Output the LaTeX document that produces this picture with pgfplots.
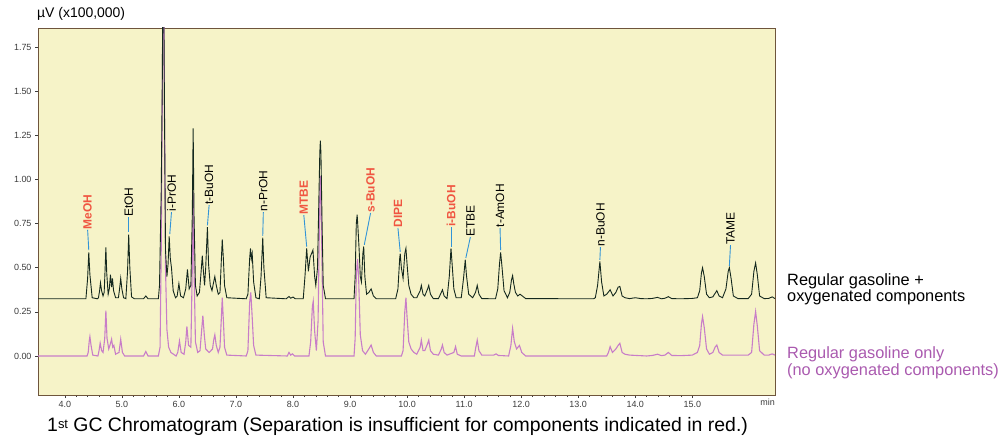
\documentclass[border=0pt]{standalone}
\usepackage{pgfplots}
\pgfplotsset{compat=1.18}
\usepackage{fontspec}
\setmainfont{Liberation Sans}

\definecolor{plotbg}{RGB}{246,243,200}
\definecolor{frame}{RGB}{110,85,60}
\definecolor{trace}{RGB}{20,40,30}
\definecolor{lilac}{RGB}{200,125,200}
\definecolor{lilactext}{RGB}{170,90,175}
\definecolor{redlbl}{RGB}{240,85,65}
\definecolor{leader}{RGB}{50,148,215}
\definecolor{ticktext}{RGB}{60,60,60}

\begin{document}
\begin{tikzpicture}
\begin{axis}[
name=ax,
scale only axis,
width=737bp, height=367bp,
xmin=3.53, xmax=16.45,
ymin=-0.221, ymax=1.858,
axis background/.style={fill=plotbg},
axis line style={draw=frame, line width=0.8bp},
clip mode=individual,
xtick={4,...,15},
ytick={0,0.25,...,1.75},
minor x tick num=4,
tick align=outside,
major tick length=3bp, minor tick length=2bp,
tick style={draw=ticktext, line width=0.5bp},
xtick pos=bottom, ytick pos=left,
/pgf/number format/assume math mode=true,
xticklabel style={/pgf/number format/.cd, fixed, fixed zerofill, precision=1},
yticklabel style={/pgf/number format/.cd, fixed, fixed zerofill, precision=2},
ticklabel style={font=\fontsize{9}{9}\selectfont, text=ticktext},
extra x ticks={16.32},
extra x tick labels={min},
extra x tick style={major tick length=0bp, tick style={draw=none}},
]
% regular gasoline only
\addplot[lilac, line width=1.1bp] coordinates {
(3.53,0)(4.39,0)
(4.41,0.02)(4.43,0.09)(4.44,0.11)(4.46,0.06)(4.49,0.005)(4.58,0)
(4.60,0.03)(4.62,0.073)(4.645,0.03)(4.67,0.02)
(4.70,0.10)(4.72,0.257)(4.74,0.10)(4.77,0.04)
(4.80,0.07)(4.82,0.095)(4.84,0.05)(4.86,0.06)(4.89,0.01)
(4.95,0.02)(4.98,0.095)(5.01,0.02)(5.05,0)(5.38,0)
(5.42,0.025)(5.46,0)(5.64,0)
(5.67,0.05)(5.69,0.6)(5.71,1.5)(5.725,2.6)(5.745,1.5)(5.765,0.5)(5.79,0.15)(5.82,0.05)(5.86,0.02)(5.95,0)
(5.98,0.02)(6.01,0.085)(6.04,0.02)(6.09,0.01)
(6.12,0.08)(6.14,0.167)(6.17,0.06)(6.21,0.05)
(6.235,0.5)(6.25,0.93)(6.265,0.5)(6.29,0.08)(6.33,0.02)(6.37,0.03)
(6.40,0.15)(6.42,0.229)(6.445,0.12)(6.47,0.04)(6.53,0.02)(6.59,0.04)
(6.61,0.09)(6.63,0.12)(6.655,0.06)(6.69,0.02)(6.72,0.05)
(6.745,0.22)(6.76,0.33)(6.78,0.2)(6.80,0.05)(6.84,0.005)(7.18,0)
(7.21,0.03)(7.24,0.30)(7.26,0.36)(7.28,0.25)(7.31,0.06)(7.35,0.005)(7.90,0)
(7.93,0.02)(7.96,0.005)(7.99,0.012)(8.03,0)(8.28,0)
(8.31,0.08)(8.34,0.28)(8.355,0.31)(8.38,0.14)(8.41,0.03)(8.44,0.2)(8.47,0.9)(8.48,1.02)(8.49,0.9)(8.51,0.5)(8.53,0.08)(8.57,0)(9.07,0)
(9.09,0.1)(9.11,0.45)(9.13,0.55)(9.15,0.45)(9.18,0.12)(9.22,0.03)(9.27,0.01)(9.33,0.04)(9.37,0.062)(9.41,0.02)(9.46,0)(9.90,0)
(9.93,0.03)(9.96,0.25)(9.98,0.33)(10.00,0.22)(10.03,0.08)(10.07,0.04)(10.12,0.02)(10.17,0.01)
(10.23,0.05)(10.25,0.09)(10.28,0.03)(10.31,0.03)
(10.36,0.07)(10.38,0.09)(10.41,0.03)(10.46,0.01)(10.55,0.005)
(10.60,0.04)(10.62,0.062)(10.65,0.02)(10.70,0.005)
(10.82,0.02)(10.85,0.053)(10.88,0.01)(10.95,0)(11.18,0)
(11.20,0.04)(11.23,0.09)(11.26,0.03)(11.31,0.005)(11.52,0.005)(11.56,0.012)(11.60,0.003)(11.78,0)
(11.82,0.06)(11.85,0.157)(11.88,0.08)(11.92,0.04)(11.97,0.06)(12.01,0.02)(12.08,0)(13.5,0)
(13.53,0.02)(13.56,0.053)(13.60,0.02)(13.66,0.04)
(13.70,0.06)(13.73,0.072)(13.77,0.02)(13.82,0.01)(13.9,0.005)(14.2,0)(14.3,0.003)(14.39,0.01)(14.46,0.002)(14.52,0.005)(14.58,0.02)(14.64,0.003)(14.8,0.002)(15.0,0.005)(15.09,0.02)
(15.13,0.06)(15.16,0.18)(15.18,0.223)(15.21,0.16)(15.25,0.04)(15.30,0.01)(15.36,0.02)(15.40,0.05)(15.43,0.062)(15.47,0.02)(15.53,0.005)(15.98,0.005)
(16.04,0.02)(16.08,0.18)(16.11,0.252)(16.14,0.17)(16.18,0.03)(16.26,0.005)(16.34,0.005)(16.40,0.012)(16.45,0.005)
};
% regular gasoline + oxygenated components (offset baseline)
\addplot[trace, line width=0.9bp] coordinates {
(3.53,0.324)(4.36,0.324)
(4.37,0.324)(4.40,0.44)(4.42,0.587)(4.44,0.46)(4.48,0.33)(4.57,0.324)
(4.59,0.33)(4.61,0.37)(4.625,0.415)(4.645,0.37)(4.67,0.34)
(4.69,0.36)(4.705,0.48)(4.72,0.615)(4.735,0.47)(4.76,0.35)
(4.78,0.38)(4.80,0.46)(4.82,0.39)(4.835,0.44)(4.855,0.37)(4.89,0.33)
(4.94,0.33)(4.96,0.38)(4.98,0.44)(5.00,0.38)(5.03,0.33)
(5.07,0.325)(5.10,0.48)(5.12,0.687)(5.14,0.50)(5.17,0.335)(5.22,0.324)
(5.38,0.324)(5.42,0.34)(5.46,0.324)(5.64,0.324)
(5.66,0.40)(5.69,0.93)(5.71,1.6)(5.725,2.6)(5.745,1.5)(5.765,0.6)(5.79,0.45)
(5.81,0.52)(5.83,0.678)(5.85,0.55)(5.87,0.50)(5.90,0.37)(5.94,0.33)
(5.97,0.34)(6.00,0.41)(6.03,0.34)(6.08,0.33)
(6.12,0.38)(6.15,0.49)(6.18,0.38)(6.21,0.40)
(6.235,0.8)(6.25,1.29)(6.265,0.8)(6.29,0.40)(6.32,0.34)(6.36,0.36)
(6.39,0.48)(6.41,0.568)(6.43,0.48)(6.45,0.40)(6.47,0.50)(6.50,0.73)(6.52,0.52)(6.55,0.40)(6.58,0.37)
(6.61,0.42)(6.63,0.45)(6.655,0.40)(6.69,0.35)(6.72,0.36)
(6.745,0.55)(6.76,0.66)(6.78,0.55)(6.80,0.40)(6.84,0.33)(7.18,0.324)
(7.21,0.35)(7.24,0.55)(7.255,0.61)(7.27,0.55)(7.285,0.58)(7.31,0.42)(7.35,0.33)(7.41,0.324)
(7.44,0.45)(7.47,0.67)(7.49,0.50)(7.53,0.33)(7.88,0.324)
(7.93,0.337)(7.96,0.327)(8.00,0.334)(8.04,0.324)(8.18,0.324)
(8.21,0.45)(8.24,0.61)(8.27,0.48)(8.30,0.56)(8.35,0.60)(8.38,0.45)(8.40,0.40)(8.43,0.50)(8.47,1.15)(8.48,1.22)(8.49,1.15)(8.51,0.75)(8.53,0.40)(8.57,0.324)
(9.07,0.324)
(9.09,0.45)(9.11,0.75)(9.125,0.80)(9.14,0.72)(9.16,0.60)(9.18,0.45)(9.20,0.42)(9.225,0.58)(9.24,0.62)(9.26,0.45)(9.29,0.35)(9.33,0.36)(9.37,0.38)(9.41,0.34)(9.46,0.324)
(9.80,0.324)
(9.84,0.38)(9.87,0.55)(9.88,0.58)(9.90,0.50)(9.93,0.44)(9.96,0.58)(9.98,0.61)(10.00,0.52)(10.03,0.40)(10.07,0.35)(10.12,0.33)(10.17,0.33)
(10.23,0.37)(10.25,0.40)(10.28,0.35)(10.31,0.34)
(10.36,0.38)(10.38,0.40)(10.41,0.35)(10.46,0.325)(10.55,0.325)
(10.60,0.36)(10.62,0.375)(10.65,0.34)(10.70,0.325)
(10.74,0.45)(10.77,0.61)(10.79,0.52)(10.82,0.38)(10.86,0.33)(10.95,0.33)
(10.99,0.44)(11.02,0.545)(11.04,0.46)(11.08,0.35)(11.15,0.33)
(11.20,0.36)(11.23,0.40)(11.26,0.35)(11.31,0.325)(11.55,0.324)
(11.59,0.38)(11.62,0.52)(11.64,0.587)(11.66,0.52)(11.70,0.37)(11.76,0.33)(11.80,0.36)
(11.83,0.43)(11.85,0.455)(11.87,0.41)(11.90,0.36)(11.94,0.34)(11.98,0.35)(12.02,0.34)(12.08,0.325)(13.27,0.324)
(13.30,0.33)(13.34,0.40)(13.38,0.536)(13.41,0.42)(13.45,0.34)(13.50,0.35)
(13.56,0.375)(13.61,0.34)(13.66,0.36)
(13.70,0.39)(13.73,0.394)(13.77,0.34)(13.82,0.33)(13.90,0.325)(14.0,0.33)(14.1,0.325)(14.2,0.324)(14.3,0.326)
(14.39,0.332)(14.46,0.324)(14.52,0.327)
(14.58,0.336)(14.64,0.325)(14.8,0.324)(15.0,0.326)(15.09,0.33)
(15.13,0.37)(15.16,0.47)(15.18,0.50)(15.21,0.45)(15.25,0.35)(15.30,0.33)(15.36,0.335)
(15.40,0.355)(15.43,0.37)(15.47,0.34)(15.53,0.33)
(15.59,0.38)(15.63,0.48)(15.65,0.50)(15.68,0.44)(15.72,0.34)(15.80,0.325)(15.98,0.325)
(16.04,0.35)(16.08,0.48)(16.11,0.527)(16.14,0.46)(16.18,0.34)(16.26,0.325)(16.34,0.326)
(16.40,0.335)(16.45,0.325)
};
% peak labels with leader lines
\tikzset{ldr/.style={draw=leader, line width=0.9bp},
  lbl/.style={rotate=90, anchor=west, inner sep=0.5bp, font=\fontsize{12}{12}\selectfont},
  rlbl/.style={lbl, text=redlbl, font=\fontsize{12}{12}\selectfont\bfseries}}
\draw[ldr] (axis cs:4.40,0.715) -- (axis cs:4.42,0.60);
\node[rlbl] at (axis cs:4.40,0.715) {MeOH};
\draw[ldr] (axis cs:5.12,0.785) -- (axis cs:5.12,0.70);
\node[lbl] at (axis cs:5.12,0.785) {EtOH};
\draw[ldr] (axis cs:5.87,0.815) -- (axis cs:5.84,0.69);
\node[lbl] at (axis cs:5.87,0.815) {i-PrOH};
\draw[ldr] (axis cs:6.53,0.855) -- (axis cs:6.50,0.74);
\node[lbl] at (axis cs:6.53,0.855) {t-BuOH};
\draw[ldr] (axis cs:7.48,0.815) -- (axis cs:7.47,0.68);
\node[lbl] at (axis cs:7.48,0.815) {n-PrOH};
\draw[ldr] (axis cs:8.19,0.798) -- (axis cs:8.24,0.62);
\node[rlbl] at (axis cs:8.19,0.798) {MTBE};
\draw[ldr] (axis cs:9.36,0.81) -- (axis cs:9.25,0.63);
\node[rlbl] at (axis cs:9.36,0.81) {s-BuOH};
\draw[ldr] (axis cs:9.84,0.725) -- (axis cs:9.88,0.59);
\node[rlbl] at (axis cs:9.84,0.725) {DIPE};
\draw[ldr] (axis cs:10.77,0.73) -- (axis cs:10.77,0.62);
\node[rlbl] at (axis cs:10.77,0.73) {i-BuOH};
\draw[ldr] (axis cs:11.11,0.674) -- (axis cs:11.03,0.555);
\node[lbl] at (axis cs:11.11,0.674) {ETBE};
\draw[ldr] (axis cs:11.63,0.725) -- (axis cs:11.64,0.60);
\node[lbl] at (axis cs:11.63,0.725) {t-AmOH};
\draw[ldr] (axis cs:13.39,0.617) -- (axis cs:13.38,0.545);
\node[lbl] at (axis cs:13.39,0.617) {n-BuOH};
\draw[ldr] (axis cs:15.67,0.628) -- (axis cs:15.65,0.51);
\node[lbl] at (axis cs:15.67,0.628) {TAME};
% unit, series names, caption
\node[anchor=base west, inner sep=0, xshift=-1bp, yshift=10bp, font=\fontsize{14}{14}\selectfont]
  at (rel axis cs:0,1) {µV (x100,000)};
\node[anchor=base west, inner sep=0, xshift=12bp, yshift=110bp, font=\fontsize{16.4}{17}\selectfont]
  at (rel axis cs:1,0) {Regular gasoline +};
\node[anchor=base west, inner sep=0, xshift=12bp, yshift=93.3bp, font=\fontsize{16.4}{17}\selectfont]
  at (rel axis cs:1,0) {oxygenated components};
\node[anchor=base west, inner sep=0, xshift=12bp, yshift=36.7bp, font=\fontsize{16.4}{17}\selectfont, text=lilactext]
  at (rel axis cs:1,0) {Regular gasoline only};
\node[anchor=base west, inner sep=0, xshift=12bp, yshift=20bp, font=\fontsize{16.4}{17}\selectfont, text=lilactext]
  at (rel axis cs:1,0) {(no oxygenated components)};
\node[anchor=base west, inner sep=0, xshift=9bp, yshift=-36bp, font=\fontsize{19.5}{20}\selectfont]
  at (rel axis cs:0,0) {1\raisebox{3bp}{\fontsize{13}{13}\selectfont st} GC Chromatogram (Separation is insufficient for components indicated in red.)};
\end{axis}
\pgfresetboundingbox
\path[use as bounding box] (ax.south west) ++(-38bp,-41bp) rectangle ++(1001bp,436bp);
\end{tikzpicture}
\end{document}
